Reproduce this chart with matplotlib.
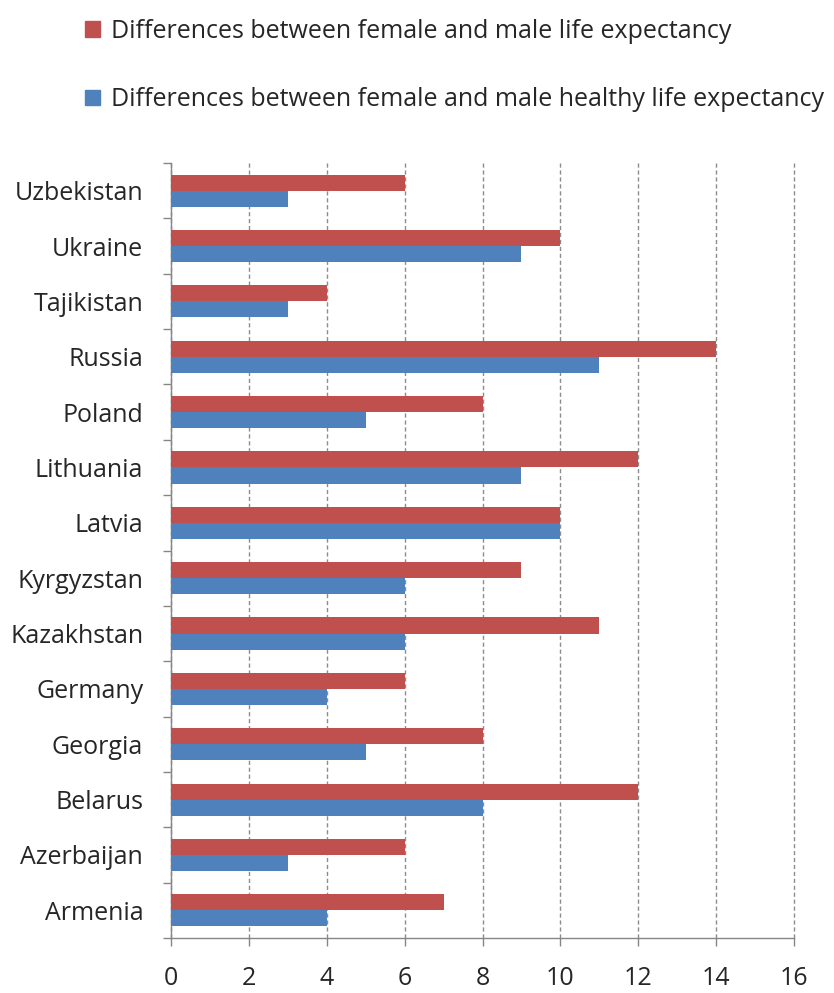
import matplotlib
matplotlib.use("Agg")
import matplotlib.pyplot as plt
import numpy as np
from matplotlib.patches import Patch

countries = ["Uzbekistan", "Ukraine", "Tajikistan", "Russia", "Poland", "Lithuania",
             "Latvia", "Kyrgyzstan", "Kazakhstan", "Germany", "Georgia", "Belarus",
             "Azerbaijan", "Armenia"]
life_exp_diff = [6, 10, 4, 14, 8, 12, 10, 9, 11, 6, 8, 12, 6, 7]
healthy_exp_diff = [3, 9, 3, 11, 5, 9, 10, 6, 6, 4, 5, 8, 3, 4]
label_red = "Differences between female and male life expectancy"
label_blue = "Differences between female and male healthy life expectancy"

plt.rcParams['font.family'] = ['Open Sans', 'DejaVu Sans']
red = "#C0504D"
blue = "#4F81BD"
txt = "#262626"

fig = plt.figure(figsize=(8.34, 9.93), dpi=100)
ax = fig.add_axes([171/834, 1-938/993, (794-171)/834, (938-163)/993])

n = len(countries)
y = np.arange(n)[::-1]  # Uzbekistan at top
h = 0.29
ax.barh(y + h/2, life_exp_diff, height=h, color=red, zorder=3)
ax.barh(y - h/2, healthy_exp_diff, height=h, color=blue, zorder=3)

ax.set_xlim(0, 16)
ax.set_ylim(-0.5, n - 0.5)
ax.set_xticks(np.arange(0, 17, 2))
ax.set_yticks(y)
ax.set_yticklabels(countries, fontsize=18, color=txt)
ax.set_yticks(np.arange(-0.5, n, 1), minor=True)
ax.tick_params(axis='y', which='major', length=0, pad=20)
ax.tick_params(axis='y', which='minor', length=6, color="#868686", width=1)
ax.tick_params(axis='x', which='major', length=6, color="#868686", width=1,
               labelsize=18, labelcolor=txt, pad=14)
ax.grid(axis='x', linestyle=(0, (3, 2)), color="#8c8c8c", linewidth=1, zorder=0)
for gl in ax.get_xgridlines():
    gl.set_clip_on(False)
for s in ['top', 'right']:
    ax.spines[s].set_visible(False)
for s in ['left', 'bottom']:
    ax.spines[s].set_color("#868686")
    ax.spines[s].set_linewidth(1)

handles = [Patch(color=red, label=label_red), Patch(color=blue, label=label_blue)]
fig.legend(handles=handles, loc='upper left', bbox_to_anchor=(62/834, 1 + 4/993),
           frameon=False, fontsize=18, labelspacing=1.75, handlelength=0.6,
           handleheight=0.6, handletextpad=0.45, labelcolor=txt)

fig.savefig("out.png", dpi=100)
